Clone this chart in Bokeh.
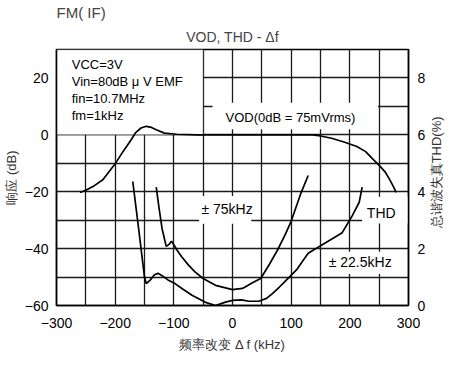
import math
from bokeh.plotting import figure
from bokeh.layouts import row
from bokeh.models import Range1d, LinearAxis, FixedTicker, BoxAnnotation, Label, Title
from bokeh.embed import file_html
from bokeh.resources import INLINE

# ---- data ----
freq_vod = [-260, -250, -238, -221, -200, -187, -173, -165, -156, -147, -138, -130, -116, -95,
            -60, 0, 60, 120, 137, 150, 169, 190, 212, 227, 238, 250, 260, 267, 273, 279]
vod_db = [-20.3, -19.5, -18.2, -15.8, -10.2, -6.0, -1.8, 0.8, 2.4, 3.0, 2.6, 1.8, 0.6, 0.2,
          0, 0, 0, 0, 0, -0.4, -1.2, -2.5, -4.1, -5.9, -8.3, -10.7, -13.0, -15.4, -17.7, -20.2]

freq_75 = [-130, -125, -120, -113, -108, -104, -99, -95, -87, -75, -64, -50, -29, 0, 17, 34, 48,
           63, 77, 90, 100, 117, 129]
thd_75 = [4.16, 3.4, 2.7, 2.08, 2.15, 2.26, 2.1, 1.96, 1.72, 1.42, 1.18, 0.95, 0.71, 0.56, 0.6,
          0.8, 0.95, 1.45, 1.96, 2.5, 2.96, 3.97, 4.57]

freq_225 = [-170, -160, -150, -147, -140, -133, -127, -120, -110, -98, -85, -69, -47, -29, -12, 0,
            15, 28, 45, 58, 68, 80, 93, 109, 129, 158, 187, 204, 216, 221]
thd_225 = [4.36, 2.7, 1.0, 0.77, 0.9, 1.08, 1.13, 1.05, 0.9, 0.77, 0.58, 0.36, 0.12, 0.0, 0.12, 0.18,
           0.2, 0.15, 0.15, 0.25, 0.42, 0.65, 0.92, 1.25, 1.84, 2.2, 2.56, 3.15, 3.63, 4.16]

x_ticks = [-300, -200, -100, 0, 100, 200, 300]
y_ticks = [-60, -40, -20, 0, 20]
thd_ticks = [0, 2, 4, 6, 8]
x_grid = list(range(-300, 301, 50))
y_grid = list(range(-60, 31, 10))

FONT = "Liberation Sans"

p = figure(width=428, height=358, x_range=Range1d(-300, 300), y_range=Range1d(-60, 30),
           output_backend="svg", toolbar_location=None,
           min_border_left=55, min_border_right=17, min_border_top=42, min_border_bottom=53)

p.title.text = "FM( IF)"
p.title.align = "left"
p.title.text_font = FONT
p.title.text_font_size = "15px"
p.title.text_font_style = "normal"
p.title.standoff = 3
p.add_layout(Title(text="VOD, THD - \u0394f", align="center", text_font=FONT, text_font_size="14px",
                   text_font_style="normal", standoff=9), "above")

p.extra_y_ranges = {"thd": Range1d(0, 9)}
right = LinearAxis(y_range_name="thd", ticker=FixedTicker(ticks=thd_ticks))
p.add_layout(right, "right")

left = p.left[0]
bottom = p.below[0]
bottom.ticker = FixedTicker(ticks=x_ticks)
left.ticker = FixedTicker(ticks=y_ticks)
left.axis_label = "响应 (dB)"

for ax in (left, bottom, right):
    ax.major_tick_line_color = None
    ax.minor_tick_line_color = None
    ax.major_tick_out = 0
    ax.major_tick_in = 0
    ax.minor_tick_out = 0
    ax.minor_tick_in = 0
    ax.axis_line_color = "black"
    ax.axis_line_width = 1.5
    ax.major_label_text_font = FONT
    ax.major_label_text_font_size = "14px"
    ax.major_label_text_color = "black"
    ax.axis_label_text_font = FONT
    ax.axis_label_text_font_size = "13px"
    ax.axis_label_text_font_style = "normal"
    ax.axis_label_text_color = "#333333"

bottom.major_label_standoff = 12
left.major_label_standoff = 8
left.axis_label_standoff = 3
right.major_label_standoff = 9

# x-axis title as a title below the axis
p.add_layout(Title(text="频率改变 \u0394 f (kHz)", align="center", text_font=FONT,
                   text_font_size="13px", text_font_style="normal", text_color="#333333",
                   standoff=9), "below")

p.outline_line_color = "black"
p.outline_line_width = 1.5
p.xgrid.ticker = FixedTicker(ticks=x_grid)
p.ygrid.ticker = FixedTicker(ticks=y_grid)
for g in (p.xgrid[0], p.ygrid[0]):
    g.grid_line_color = "#1a1a1a"
    g.grid_line_width = 1.3
    g.grid_line_alpha = 1

# white boxes over grid
p.add_layout(BoxAnnotation(left=-300, right=-50, bottom=0, top=30, fill_color="white", fill_alpha=1,
                           line_color="black", line_width=1.3, level="underlay"))
for (l, r, b, t) in [(-34, 248, 2.0, 11.3), (221, 300, -31.2, -21.8), (153, 285, -48.9, -41.1),
                     (-57, 32, -31.3, -21.5)]:
    p.add_layout(BoxAnnotation(left=l, right=r, bottom=b, top=t, fill_color="white", fill_alpha=1,
                               line_color=None, level="underlay"))

# curves
p.line(freq_vod, vod_db, line_color="black", line_width=1.7)
p.line(freq_75, thd_75, y_range_name="thd", line_color="black", line_width=1.7)
p.line(freq_225, thd_225, y_range_name="thd", line_color="black", line_width=1.7)

# texts
box_lines = ["VCC=3V", "Vin=80dB \u03bc V EMF", "fin=10.7MHz", "fm=1kHz"]
box_y = [24.8, 18.6, 12.7, 6.7]
for t, yy in zip(box_lines, box_y):
    p.add_layout(Label(x=-274, y=yy, text=t, text_font=FONT, text_font_size="13px",
                       text_baseline="middle", text_color="black"))

for t, xx, yy, fs in [("VOD(0dB = 75mVrms)", -12, 6.0, "13px"), ("THD", 229, -27.6, "14px"),
                      ("\u00b1 22.5kHz", 164, -44.7, "14px"), ("\u00b1 75kHz", -53, -26.2, "14px")]:
    p.add_layout(Label(x=xx, y=yy, text=t, text_font=FONT, text_font_size=fs,
                       text_baseline="middle", text_color="black"))

# right-hand axis title in a narrow strip, reading bottom to top
p2 = figure(width=20, height=358, x_range=Range1d(0, 1), y_range=Range1d(0, 1),
            output_backend="svg", toolbar_location=None, min_border=0)
p2.axis.visible = False
p2.grid.visible = False
p2.outline_line_color = None
p2.title.visible = False
p2.add_layout(Label(x=0.4, y=0.52, text="总谐波失真THD(%)", angle=math.pi / 2, text_font=FONT,
                    text_font_size="13px", text_align="center", text_baseline="middle",
                    text_color="#333333"))

open("out.html", "w").write(file_html(row(p, p2), INLINE))
